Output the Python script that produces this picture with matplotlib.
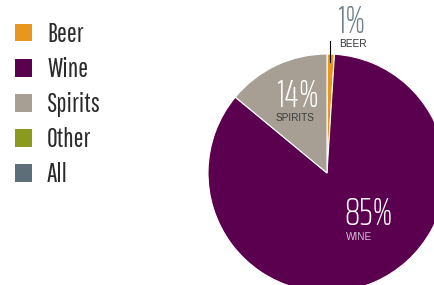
import matplotlib
matplotlib.use('Agg')
import matplotlib.pyplot as plt
from matplotlib.patches import Patch

LEG_FONT = ['Pathway Gothic One', 'DejaVu Sans']
PCT_FONT = ['Saira ExtraCondensed', 'DejaVu Sans']
LAB_FONT = ['Liberation Sans', 'DejaVu Sans']

# legend categories
categories = ['Beer', 'Wine', 'Spirits', 'Other', 'All']
cat_colors = ['#E8961E', '#5A004E', '#A89F94', '#8A9A1E', '#5E6E78']

# pie slices (share of total, %)
slice_names = ['BEER', 'WINE', 'SPIRITS']
slice_values = [1, 85, 14]
slice_colors = ['#E8961E', '#5A004E', '#A89F94']

W, H = 435, 285
fig = plt.figure(figsize=(W / 100, H / 100), dpi=100)

# pie axes: center (327,173) px, radius 119 px
cx, cy, r = 327, 173, 119
ax = fig.add_axes([(cx - r) / W, (H - cy - r) / H, 2 * r / W, 2 * r / H])
ax.pie(slice_values, colors=slice_colors, startangle=90, counterclock=False,
       radius=1, wedgeprops=dict(edgecolor='white', linewidth=0.8))
ax.set_xlim(-1, 1)
ax.set_ylim(-1, 1)
ax.set_aspect('auto')
ax.axis('off')

# labels
pct_kw = dict(fontsize=27.5, ha='left', va='baseline', family=PCT_FONT, weight=275)
lab_kw = dict(fontsize=7.2, ha='left', va='baseline', family=LAB_FONT)
ax.text(0.09, 1.176, '%d%%' % slice_values[0], color='#6E7F8A', clip_on=False, **pct_kw)
ax.text(0.10, 1.06, slice_names[0], color='#333333', clip_on=False, **lab_kw)
ax.plot([0.025, 0.025], [0.93, 1.11], color='black', lw=0.8, clip_on=False)
ax.text(-0.42, 0.555, '%d%%' % slice_values[2], color='white', **pct_kw)
ax.text(-0.43, 0.437, slice_names[2], color='#3C3C3C', **lab_kw)
ax.text(0.15, -0.437, '%d%%' % slice_values[1], color='white', **pct_kw)
ax.text(0.16, -0.563, slice_names[1], color='#D9C3DA', **lab_kw)

# legend
handles = [Patch(facecolor=c, edgecolor='none') for c in cat_colors]
fig.legend(handles, categories, loc='upper left', bbox_to_anchor=(15 / W, 1 - 22 / H),
           frameon=False, prop=dict(family=LEG_FONT, size=19),
           handlelength=0.644, handleheight=0.644,
           handletextpad=0.57, labelspacing=0.38, borderpad=0, borderaxespad=0,
           labelcolor='#2a2a2a')

fig.savefig('out.png', dpi=100)
